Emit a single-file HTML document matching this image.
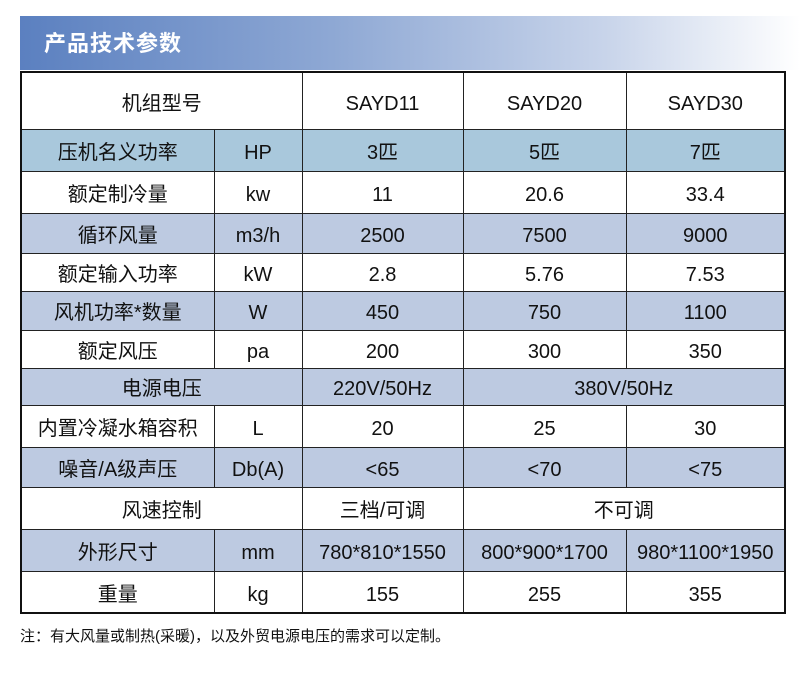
<!DOCTYPE html>
<html><head><meta charset="utf-8"><style>
body{margin:0;width:800px;height:675px;background:#fff;position:relative;font-family:"Liberation Sans","Noto Sans CJK SC",sans-serif;overflow:hidden}
.hd{position:absolute;left:20px;top:16px;width:780px;height:54px;background:linear-gradient(90deg,#5b80c0 0%,#8ea8d4 40%,#c8d4ea 75%,#ffffff 100%)}
.hd span{position:absolute;left:24px;top:12px;color:#fff;font-size:22px;line-height:32px;font-weight:bold;letter-spacing:1px}
table{position:absolute;left:20px;top:71px;width:764px;border-collapse:collapse;table-layout:fixed}
td{border:1.5px solid #222;text-align:center;font-size:20px;line-height:24px;color:#111;padding:5px 0 0 0;white-space:nowrap;vertical-align:middle}
td span{display:inline-block;line-height:24px;height:24px;vertical-align:middle}
table{border:2px solid #111}
.b{background:#a9c8dc}.l{background:#bdcae1}
</style></head><body>
<div class="hd"><span>产品技术参数</span></div>
<table>
<colgroup><col style="width:193px"><col style="width:88px"><col style="width:161px"><col style="width:163px"><col style="width:159px"></colgroup>
<tr style="height:57px"><td colspan="2"><span>机组型号</span></td><td><span>SAYD11</span></td><td><span>SAYD20</span></td><td><span>SAYD30</span></td></tr>
<tr class="b" style="height:42px"><td><span>压机名义功率</span></td><td><span>HP</span></td><td><span>3匹</span></td><td><span>5匹</span></td><td><span>7匹</span></td></tr>
<tr style="height:42px"><td><span>额定制冷量</span></td><td><span>kw</span></td><td><span>11</span></td><td><span>20.6</span></td><td><span>33.4</span></td></tr>
<tr class="l" style="height:40px"><td><span>循环风量</span></td><td><span>m3/h</span></td><td><span>2500</span></td><td><span>7500</span></td><td><span>9000</span></td></tr>
<tr style="height:38px"><td><span>额定输入功率</span></td><td><span>kW</span></td><td><span>2.8</span></td><td><span>5.76</span></td><td><span>7.53</span></td></tr>
<tr class="l" style="height:39px"><td><span>风机功率*数量</span></td><td><span>W</span></td><td><span>450</span></td><td><span>750</span></td><td><span>1100</span></td></tr>
<tr style="height:38px"><td><span>额定风压</span></td><td><span>pa</span></td><td><span>200</span></td><td><span>300</span></td><td><span>350</span></td></tr>
<tr class="l" style="height:37px"><td colspan="2"><span>电源电压</span></td><td><span>220V/50Hz</span></td><td colspan="2"><span>380V/50Hz</span></td></tr>
<tr style="height:42px"><td><span>内置冷凝水箱容积</span></td><td><span>L</span></td><td><span>20</span></td><td><span>25</span></td><td><span>30</span></td></tr>
<tr class="l" style="height:40px"><td><span>噪音/A级声压</span></td><td><span>Db(A)</span></td><td><span>&lt;65</span></td><td><span>&lt;70</span></td><td><span>&lt;75</span></td></tr>
<tr style="height:42px"><td colspan="2"><span>风速控制</span></td><td><span>三档/可调</span></td><td colspan="2"><span>不可调</span></td></tr>
<tr class="l" style="height:42px"><td><span>外形尺寸</span></td><td><span>mm</span></td><td><span>780*810*1550</span></td><td><span>800*900*1700</span></td><td><span>980*1100*1950</span></td></tr>
<tr style="height:42px"><td><span>重量</span></td><td><span>kg</span></td><td><span>155</span></td><td><span>255</span></td><td><span>355</span></td></tr>
</table>
<div style="position:absolute;left:20px;top:625px;font-size:15px;color:#111">注：有大风量或制热(采暖)，以及外贸电源电压的需求可以定制。</div>
</body></html>
